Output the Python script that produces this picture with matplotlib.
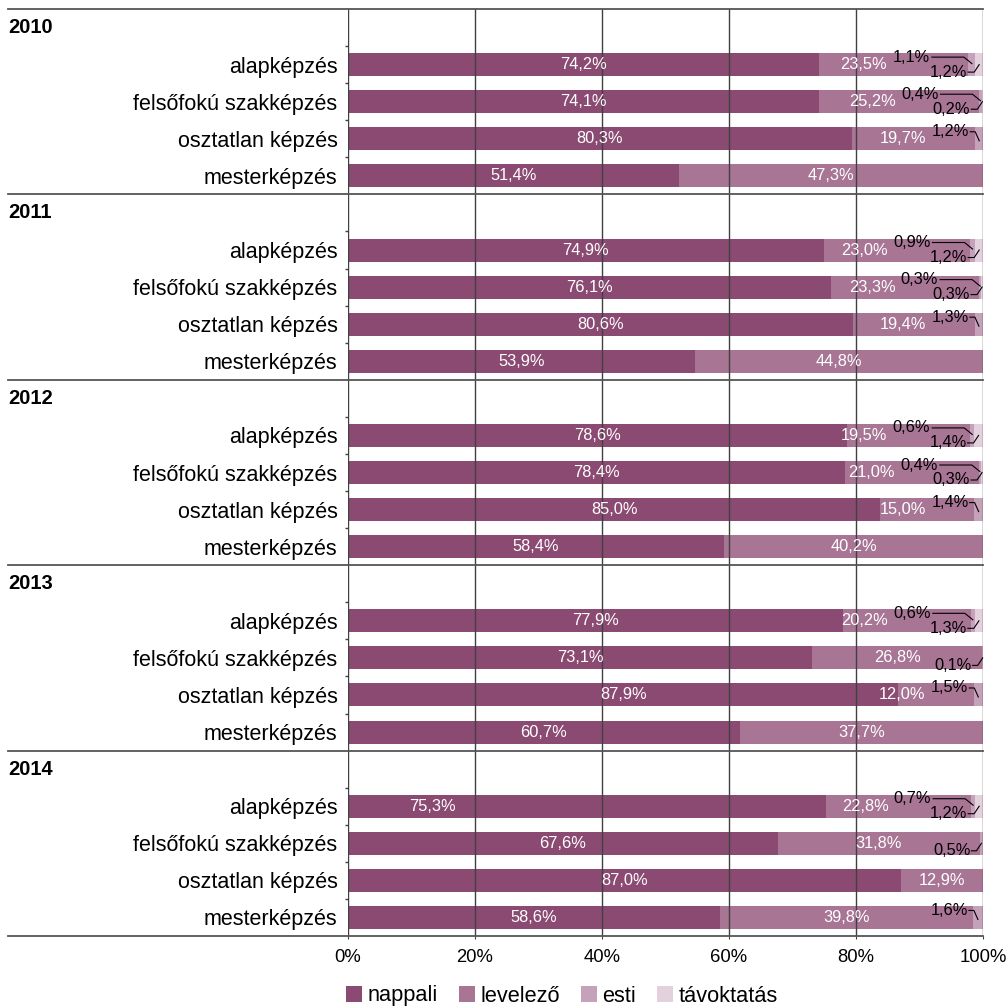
import matplotlib
matplotlib.use("Agg")
import matplotlib.pyplot as plt
import matplotlib.transforms as mtransforms
from matplotlib.patches import Patch
import numpy as np

plt.rcParams['font.family'] = ['Liberation Sans', 'DejaVu Sans']

years = ['2010', '2011', '2012', '2013', '2014']
programs = ['alapképzés', 'felsőfokú szakképzés', 'osztatlan képzés', 'mesterképzés']
series = ['nappali', 'levelező', 'esti', 'távoktatás']
colors = ['#8b4a72', '#a87595', '#c6a1ba', '#e3d1de']

# shares (%) per year, in the order of programs
nappali = [[74.2, 74.1, 80.3, 51.4],
           [74.9, 76.1, 80.6, 53.9],
           [78.6, 78.4, 85.0, 58.4],
           [77.9, 73.1, 87.9, 60.7],
           [75.3, 67.6, 87.0, 58.6]]
levelezo = [[23.5, 25.2, 19.7, 47.3],
            [23.0, 23.3, 19.4, 44.8],
            [19.5, 21.0, 15.0, 40.2],
            [20.2, 26.8, 12.0, 37.7],
            [22.8, 31.8, 12.9, 39.8]]
esti = [[1.1, 0.4, 1.2, 0.0],
        [0.9, 0.3, 1.3, 0.0],
        [0.6, 0.4, 1.4, 0.0],
        [0.6, 0.1, 1.5, 0.0],
        [0.7, 0.5, 0.0, 1.6]]
tavoktatas = [[1.2, 0.2, 0.0, 0.0],
              [1.2, 0.3, 0.0, 0.0],
              [1.4, 0.3, 0.0, 0.0],
              [1.3, 0.0, 0.0, 0.0],
              [1.2, 0.0, 0.0, 0.0]]

# label nudges (pixels), copied from the original layout
nappali_nudge = {('2014', 'alapképzés'): -155}

W, H = 1008, 1006
fig = plt.figure(figsize=(W / 100, H / 100), dpi=100)
ax_left, ax_right, ax_top, ax_bottom = 348, 983, 9, 936
ax = fig.add_axes([ax_left / W, 1 - ax_bottom / H, (ax_right - ax_left) / W, (ax_bottom - ax_top) / H])

n_rows = 5 * len(years)
ax.set_xlim(0, 100)
ax.set_ylim(n_rows, 0)
px_x = 100 / (ax_right - ax_left)
px_y = n_rows / (ax_bottom - ax_top)

small_fs = 11.8
inner_fs = 11.8


def fmt(v):
    return f"{v:.1f}".replace('.', ',') + '%'


def leader(pts):
    xs = [p[0] for p in pts]
    ys = [p[1] for p in pts]
    ax.plot(xs, ys, color='black', lw=0.8, clip_on=False, zorder=4)


bar_h = 0.62
centers = []
for g, year in enumerate(years):
    for k, prog in enumerate(programs):
        yc = 5 * g + k + 1.5
        centers.append(yc)
        vals = [nappali[g][k], levelezo[g][k], esti[g][k], tavoktatas[g][k]]
        total = sum(vals)
        norm = [v / total * 100 for v in vals]
        left = 0
        segs = []
        for s in range(4):
            ax.barh(yc, norm[s], left=left, height=bar_h, color=colors[s], zorder=1)
            segs.append((left, left + norm[s]))
            left += norm[s]

        # small segments get callouts with leader lines
        top_text_left = None
        e_c = (segs[2][0] + segs[2][1]) / 2
        t_c = (segs[3][0] + segs[3][1]) / 2
        if vals[2] > 0 and vals[3] > 0:
            tr = e_c - 42 * px_x
            ty = yc - 7.5 * px_y
            ax.text(tr, ty, fmt(vals[2]), ha='right', va='center', fontsize=small_fs, zorder=5)
            leader([(tr + 2 * px_x, ty), (e_c - 8 * px_x, ty), (e_c, yc - 1 * px_y)])
            top_text_left = tr - 38 * px_x
            tr = t_c - 12 * px_x
            ty = yc + 7.5 * px_y
            ax.text(tr, ty, fmt(vals[3]), ha='right', va='center', fontsize=small_fs, zorder=5)
            leader([(tr + 1 * px_x, ty), (t_c - 5 * px_x, ty), (t_c, yc)])
        elif vals[2] > 0 and prog == 'felsőfokú szakképzés':
            tr = e_c - 11 * px_x
            ty = yc + 7.5 * px_y
            ax.text(tr, ty, fmt(vals[2]), ha='right', va='center', fontsize=small_fs, zorder=5)
            leader([(tr + 1 * px_x, ty), (e_c - 5 * px_x, ty), (e_c, yc)])
        elif vals[2] > 0:
            tr = e_c - 10 * px_x
            ty = yc - 7 * px_y
            ax.text(tr, ty, fmt(vals[2]), ha='right', va='center', fontsize=small_fs, zorder=5)
            leader([(tr + 1 * px_x, ty), (e_c - 4 * px_x, ty), (e_c, yc + 2 * px_y)])
            top_text_left = tr - 38 * px_x

        # white labels inside the big segments
        nx = (segs[0][0] + segs[0][1]) / 2 + nappali_nudge.get((year, prog), 0) * px_x
        ax.text(nx, yc, fmt(vals[0]), ha='center', va='center', color='white', fontsize=inner_fs, zorder=5)
        lx = (segs[1][0] + segs[1][1]) / 2
        if top_text_left is not None:
            lx = min(lx, top_text_left - 28 * px_x)
        ax.text(lx, yc, fmt(vals[1]), ha='center', va='center', color='white', fontsize=inner_fs, zorder=5)

# axes styling
for sp in ax.spines.values():
    sp.set_visible(False)
ax.set_xticks(np.arange(0, 101, 20))
ax.set_xticklabels([f"{t}%" for t in range(0, 101, 20)], fontsize=13.3)
ax.tick_params(axis='x', length=2.5, color='#404040', pad=7)
ax.grid(axis='x', color='#404040', lw=1.0)
ax.set_axisbelow(False)

ax.set_yticks(centers)
ax.set_yticklabels(programs * len(years), fontsize=15.5)
ax.tick_params(axis='y', which='major', length=0, pad=7.5)
minor = [5 * g + k for g in range(len(years)) for k in range(1, 5)]
ax.set_yticks(minor, minor=True)
ax.tick_params(axis='y', which='minor', length=2.5, color='#404040', width=1.0)

blend = mtransforms.blended_transform_factory(ax.transAxes, ax.transData)
x0 = (8 - ax_left) / (ax_right - ax_left)
for g in range(len(years) + 1):
    ax.plot([x0, 1], [5 * g, 5 * g], transform=blend, clip_on=False, color='#555555', lw=1.3, zorder=6)
for g, year in enumerate(years):
    ax.text(x0, 5 * g + 0.5, year, transform=blend, ha='left', va='center', fontsize=14.5, fontweight='bold')

handles = [Patch(facecolor=c, edgecolor='none') for c in colors]
fig.legend(handles, series, loc='center', bbox_to_anchor=(562 / W, 1 - 996 / H), ncol=4, frameon=False,
           fontsize=15.7, handlelength=0.75, handleheight=0.75, handletextpad=0.25, columnspacing=0.95)

fig.savefig('out.png', dpi=100)
